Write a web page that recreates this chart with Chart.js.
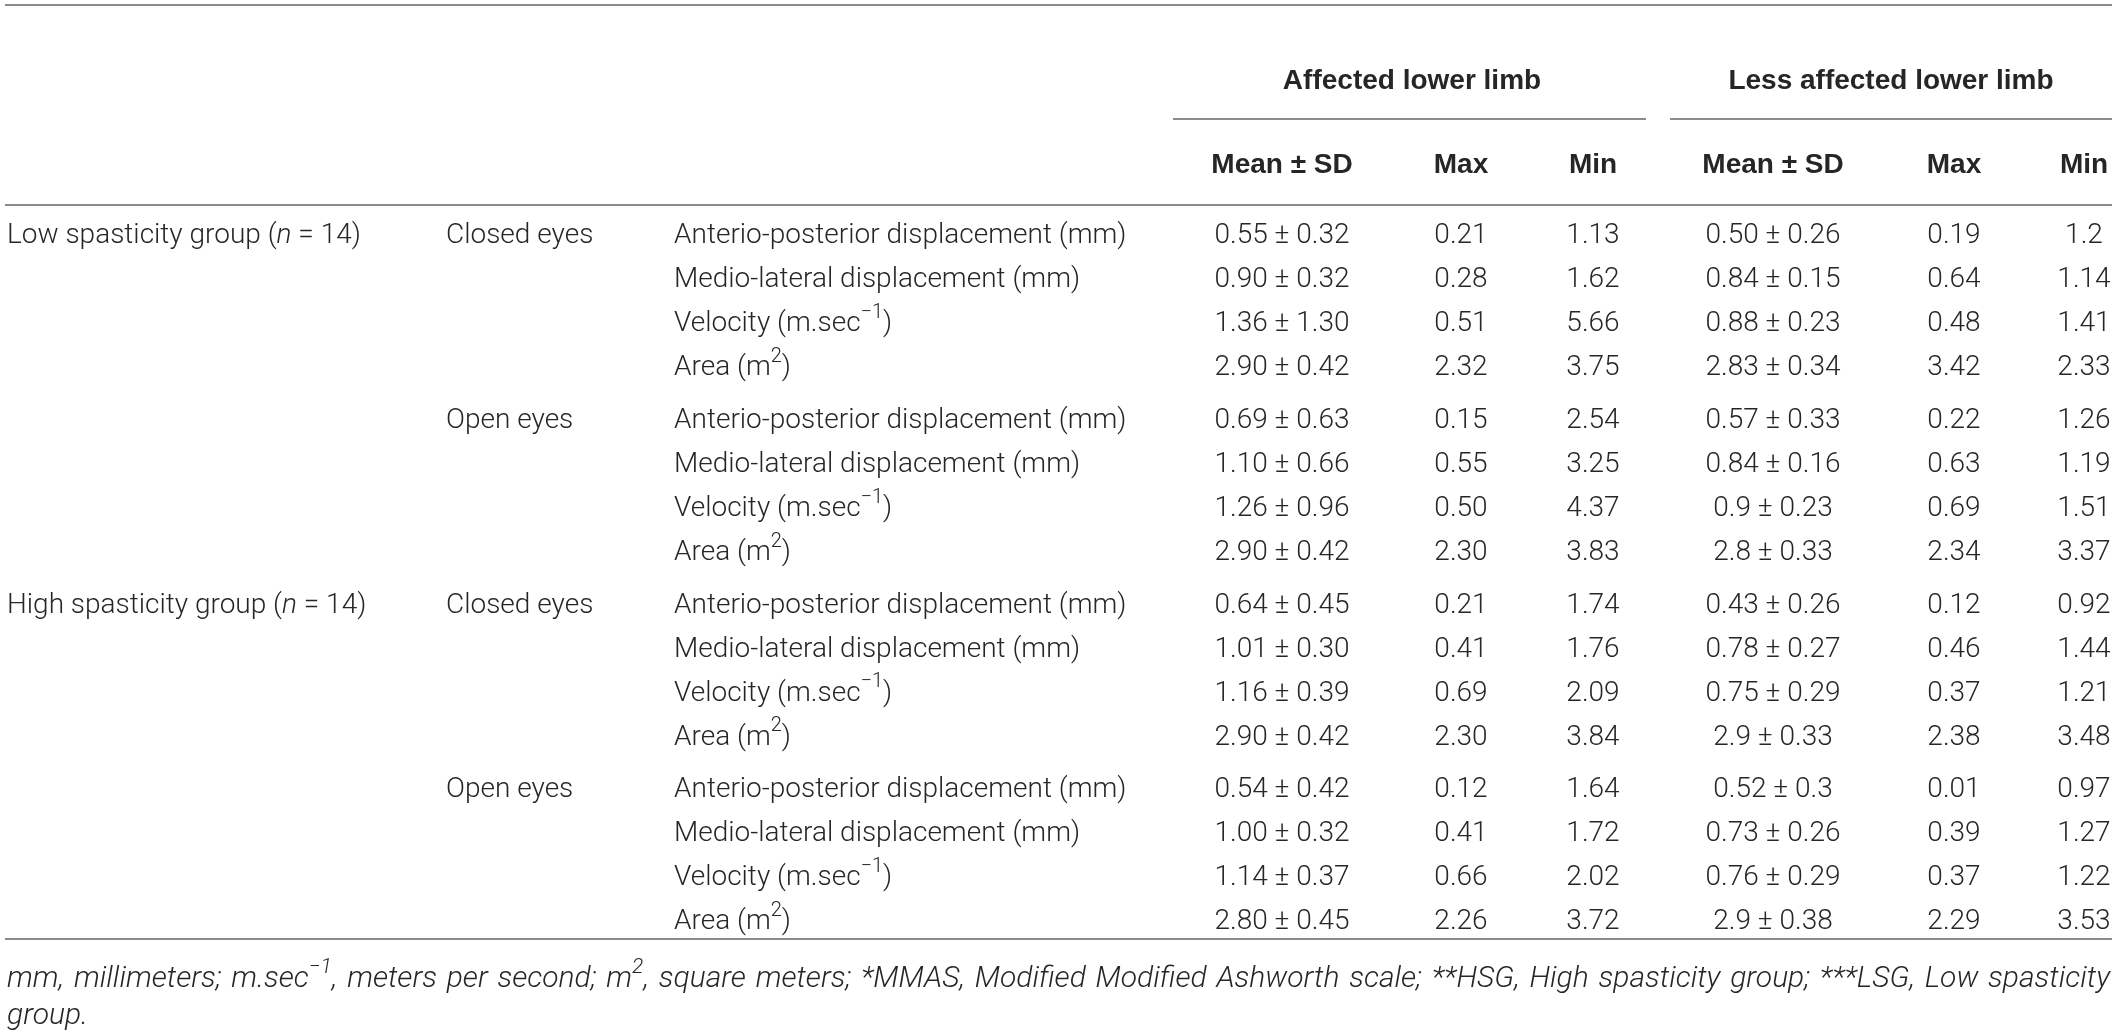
<!DOCTYPE html>
<html>
<head>
<meta charset="utf-8">
<script src="https://cdn.jsdelivr.net/npm/chart.js@4.4.1/dist/chart.umd.min.js"></script>
<style>
html, body { margin: 0; padding: 0; background: #fff; }
canvas { display: block; }
</style>
</head>
<body>
<canvas id="tableCanvas" width="2119" height="1031"></canvas>
<script>
// table content
const groups = ["Low spasticity group (_{n} = 14)", "High spasticity group (_{n} = 14)"];
const conditions = ["Closed eyes", "Open eyes"];
const measures = ["Anterio-posterior displacement (mm)", "Medio-lateral displacement (mm)",
    "Velocity (m.sec^{\u22121})", "Area (m^{2})"];
const limbHeaders = ["Affected lower limb", "Less affected lower limb"];
const statHeaders = ["Mean \u00b1 SD", "Max", "Min"];

const affMean = ["0.55", "0.90", "1.36", "2.90", "0.69", "1.10", "1.26", "2.90",
    "0.64", "1.01", "1.16", "2.90", "0.54", "1.00", "1.14", "2.80"];
const affSD = ["0.32", "0.32", "1.30", "0.42", "0.63", "0.66", "0.96", "0.42",
    "0.45", "0.30", "0.39", "0.42", "0.42", "0.32", "0.37", "0.45"];
const affMax = ["0.21", "0.28", "0.51", "2.32", "0.15", "0.55", "0.50", "2.30",
    "0.21", "0.41", "0.69", "2.30", "0.12", "0.41", "0.66", "2.26"];
const affMin = ["1.13", "1.62", "5.66", "3.75", "2.54", "3.25", "4.37", "3.83",
    "1.74", "1.76", "2.09", "3.84", "1.64", "1.72", "2.02", "3.72"];
const lessMean = ["0.50", "0.84", "0.88", "2.83", "0.57", "0.84", "0.9", "2.8",
    "0.43", "0.78", "0.75", "2.9", "0.52", "0.73", "0.76", "2.9"];
const lessSD = ["0.26", "0.15", "0.23", "0.34", "0.33", "0.16", "0.23", "0.33",
    "0.26", "0.27", "0.29", "0.33", "0.3", "0.26", "0.29", "0.38"];
const lessMax = ["0.19", "0.64", "0.48", "3.42", "0.22", "0.63", "0.69", "2.34",
    "0.12", "0.46", "0.37", "2.38", "0.01", "0.39", "0.37", "2.29"];
const lessMin = ["1.2", "1.14", "1.41", "2.33", "1.26", "1.19", "1.51", "3.37",
    "0.92", "1.44", "1.21", "3.48", "0.97", "1.27", "1.22", "3.53"];

// footnote as it is broken in the reference
const footnoteLines = [
    "mm, millimeters; m.sec^{\u22121}, meters per second; m^{2}, square meters; " +
    "*MMAS, Modified Modified Ashworth scale; **HSG, High spasticity group; ***LSG, Low spasticity",
    "group."
];

// layout (x in px-like units, y in row units)
const colX = [7, 446, 674, 1282, 1461, 1593, 1773, 1954, 2084];
const colAlign = ["left", "left", "left", "center", "center", "center", "center", "center", "center"];
const limbX = [1412, 1891];
const limbLine = [[1173, 1646], [1670, 2112]];
const blockGap = 0.2;   // extra space between the four-row blocks
const yTop = -5.25, yLimb = -3.52, yLimbLine = -2.66, yStat = -1.61, yHead = -0.705;
const yBottom = 15.98, yFoot = [16.9, 17.74];

const FONT = "Roboto";
const HEAD_FONT = "'Liberation Sans', Arial, sans-serif";
const SIZE = 28;
const FOOT_SIZE = 30;
const INK = "#262626";
const RULE = "#8c8c8c";

const pm = (a, b) => a.map((v, i) => v + " \u00b1 " + b[i]);
const columns = [
    affMean.map((_, i) => (i % 8 === 0 ? groups[i / 8] : "")),
    affMean.map((_, i) => (i % 4 === 0 ? conditions[(i / 4) % 2] : "")),
    affMean.map((_, i) => measures[i % 4]),
    pm(affMean, affSD), affMax, affMin,
    pm(lessMean, lessSD), lessMax, lessMin
];

function parseRich(str) {
    return str.split(/(\^\{[^}]*\}|_\{[^}]*\})/).filter(s => s.length).map(p => {
        if (p.startsWith("^{")) return { text: p.slice(2, -1), sup: true };
        if (p.startsWith("_{")) return { text: p.slice(2, -1), italic: true };
        return { text: p };
    });
}

function segFont(seg, italic, size) {
    const px = seg.sup ? Math.round(size * 0.7) : size;
    const it = (italic || seg.italic) ? "italic " : "";
    return it + "300 " + px + "px " + FONT;
}

function richWidth(ctx, str, italic, size) {
    let w = 0;
    parseRich(str).forEach(seg => {
        ctx.font = segFont(seg, italic, size);
        w += ctx.measureText(seg.text).width;
    });
    return w;
}

function drawRich(ctx, str, x, y, align, italic, size) {
    const w = richWidth(ctx, str, italic, size);
    let cx = align === "center" ? x - w / 2 : (align === "right" ? x - w : x);
    ctx.textAlign = "left";
    ctx.textBaseline = "middle";
    parseRich(str).forEach(seg => {
        ctx.font = segFont(seg, italic, size);
        ctx.fillText(seg.text, cx, seg.sup ? y - size * 0.4 : y);
        cx += ctx.measureText(seg.text).width;
    });
}

const tablePlugin = {
    id: "tableText",
    afterDatasetsDraw(chart) {
        const ctx = chart.ctx;
        const xs = chart.scales.x, ys = chart.scales.y;
        ctx.save();
        ctx.fillStyle = INK;

        // cells
        chart.data.datasets.forEach((ds, di) => {
            chart.getDatasetMeta(di).data.forEach((pt, j) => {
                const txt = ds.cellText[j];
                if (txt) drawRich(ctx, txt, pt.x, pt.y, ds.align, false, SIZE);
            });
        });

        // header text
        ctx.font = "bold " + SIZE + "px " + HEAD_FONT;
        ctx.textAlign = "center";
        ctx.textBaseline = "middle";
        limbHeaders.forEach((h, k) => {
            ctx.fillText(h, xs.getPixelForValue(limbX[k]), ys.getPixelForValue(yLimb));
            statHeaders.forEach((s, m) => {
                ctx.fillText(s, xs.getPixelForValue(colX[3 + k * 3 + m]), ys.getPixelForValue(yStat));
            });
        });

        // rules
        ctx.strokeStyle = RULE;
        ctx.lineWidth = 2;
        const hline = (x0, x1, yv) => {
            const py = Math.round(ys.getPixelForValue(yv));
            ctx.beginPath();
            ctx.moveTo(xs.getPixelForValue(x0), py);
            ctx.lineTo(xs.getPixelForValue(x1), py);
            ctx.stroke();
        };
        hline(5, 2112, yTop);
        hline(5, 2112, yHead);
        hline(5, 2112, yBottom);
        limbLine.forEach(l => hline(l[0], l[1], yLimbLine));

        // footnote, all but last line justified
        const left = xs.getPixelForValue(7), right = xs.getPixelForValue(2110);
        const spaceW = richWidth(ctx, " ", true, FOOT_SIZE);
        footnoteLines.forEach((text, li) => {
            const words = text.split(" ");
            const py = ys.getPixelForValue(yFoot[li]);
            const widths = words.map(w => richWidth(ctx, w, true, FOOT_SIZE));
            const total = widths.reduce((a, b) => a + b, 0);
            const last = li === footnoteLines.length - 1;
            const gap = !last && words.length > 1 ? (right - left - total) / (words.length - 1) : spaceW;
            let cx = left;
            words.forEach((w, k) => {
                drawRich(ctx, w, cx, py, "left", true, FOOT_SIZE);
                cx += widths[k] + gap;
            });
        });
        ctx.restore();
    }
};

const datasets = columns.map((col, c) => ({
    data: col.map((_, i) => ({ x: colX[c], y: i + blockGap * Math.floor(i / 4) })),
    cellText: col,
    align: colAlign[c],
    pointRadius: 0,
    pointHoverRadius: 0,
    showLine: false
}));

new Chart(document.getElementById("tableCanvas"), {
    type: "scatter",
    data: { datasets: datasets },
    options: {
        responsive: false,
        devicePixelRatio: 1,
        animation: false,
        events: [],
        layout: { padding: 0 },
        scales: {
            x: { type: "linear", min: 0, max: 2119, display: false },
            y: { type: "linear", min: -5.364, max: 18.068, reverse: true, display: false }
        },
        plugins: {
            legend: { display: false },
            tooltip: { enabled: false }
        }
    },
    plugins: [tablePlugin]
});
</script>
</body>
</html>
